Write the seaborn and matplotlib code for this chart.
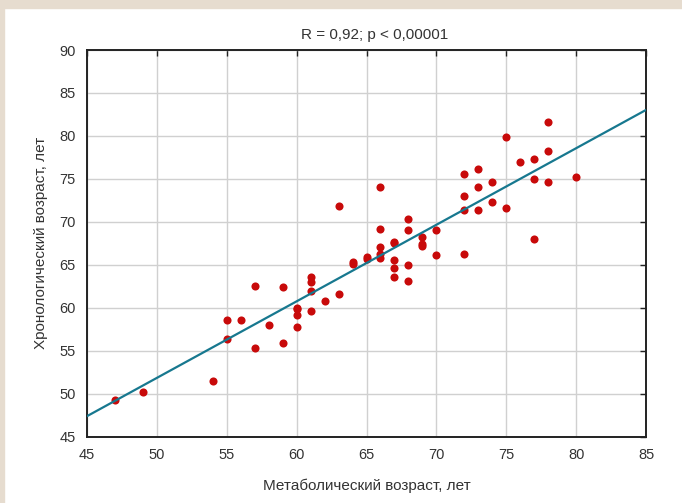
import matplotlib
matplotlib.use('Agg')
import matplotlib.pyplot as plt
import pandas as pd
import seaborn as sns
from matplotlib.patches import Rectangle

# Metabolic age (x) vs chronological age (y)
metab_age = [47, 49, 54, 55, 55, 56, 57, 57, 58, 59, 59,
             60, 60, 60, 60, 61, 61, 61, 61, 62, 63, 63,
             64, 64, 65, 65, 66, 66, 66, 66, 66,
             67, 67, 67, 67, 67, 68, 68, 68, 68, 69, 69, 69,
             70, 70, 72, 72, 72, 72, 73, 73, 73, 74, 74,
             75, 75, 76, 77, 77, 77, 78, 78, 78, 80]
chrono_age = [49.2, 50.2, 51.5, 58.6, 56.3, 58.6, 62.5, 55.3, 58.0, 62.4, 55.9,
              60.0, 59.8, 59.1, 57.7, 63.6, 63.0, 61.9, 59.6, 60.8, 61.6, 71.8,
              65.3, 65.1, 65.9, 65.7, 74.0, 69.2, 67.1, 66.3, 65.8,
              67.7, 67.5, 65.6, 64.6, 63.6, 70.3, 69.0, 65.0, 63.1, 68.2, 67.4, 67.2,
              69.0, 66.1, 75.6, 73.0, 71.4, 66.2, 76.1, 74.0, 71.4, 74.6, 72.3,
              79.9, 71.6, 77.0, 77.3, 75.0, 68.0, 81.6, 78.2, 74.6, 75.2]

df = pd.DataFrame({'metab': metab_age, 'chrono': chrono_age})

x_ticks = [45, 50, 55, 60, 65, 70, 75, 80, 85]
y_ticks = [45, 50, 55, 60, 65, 70, 75, 80, 85, 90]

sns.set_style('white')
plt.rcParams['font.family'] = ['Liberation Sans', 'DejaVu Sans']

fig = plt.figure(figsize=(6.82, 5.03), dpi=100)
# beige frame strips at the top and left
fig.patches.append(Rectangle((0, 1 - 8 / 503), 1, 8 / 503, transform=fig.transFigure,
                             color='#e6dccf', zorder=0))
fig.patches.append(Rectangle((0, 0), 4 / 682, 1, transform=fig.transFigure,
                             color='#e6dccf', zorder=0))

ax = fig.add_axes([87 / 682, 1 - 436.5 / 503, (646 - 87) / 682, (436.5 - 50) / 503])
ax.set_xlim(45, 85)
ax.set_ylim(45, 90)

sns.regplot(data=df, x='metab', y='chrono', ax=ax, ci=None, truncate=False,
            scatter_kws={'s': 34, 'color': '#c80a0a', 'linewidths': 0, 'alpha': 1, 'zorder': 3},
            line_kws={'color': '#17788f', 'linewidth': 1.6, 'zorder': 4})

ax.set_xlim(45, 85)
ax.set_ylim(45, 90)
ax.set_xticks(x_ticks)
ax.set_yticks(y_ticks)
ax.grid(True, color='#d0d0d0', linewidth=1)
ax.set_axisbelow(True)
for s in ax.spines.values():
    s.set_color('#222222')
    s.set_linewidth(1.4)
ax.tick_params(direction='in', length=4, width=1, colors='#222222',
               top=True, right=True, labelsize=10.5, labelcolor='#333333', pad=8)

ax.set_title('R = 0,92; p < 0,00001', fontsize=11, color='#333333', pad=8, x=0.515)
ax.set_xlabel('Метаболический возраст, лет', fontsize=11, color='#333333', labelpad=12)
ax.set_ylabel('Хронологический возраст, лет', fontsize=11, color='#333333', labelpad=8)

fig.savefig('out.png', dpi=100, facecolor='white')
